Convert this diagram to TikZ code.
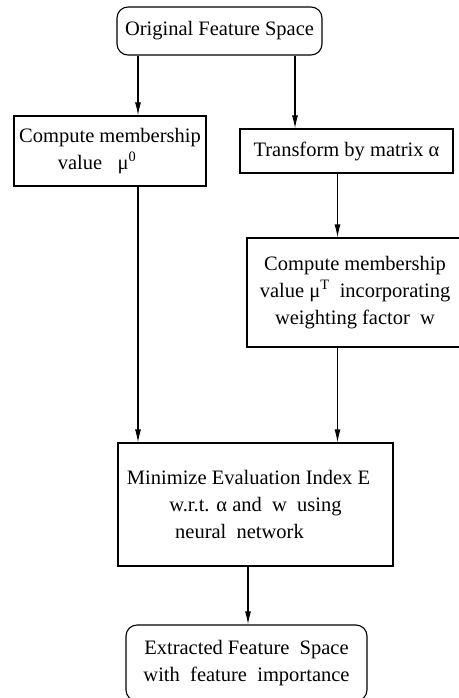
\documentclass[tikz,border=0pt]{standalone}
\usepackage{fontspec}
\setmainfont{Liberation Serif}
\usetikzlibrary{arrows.meta}

\tikzset{
  box/.style={draw, line width=1.1pt, align=center, inner sep=0pt,
    font=\fontsize{20.5}{27}\selectfont},
  endbox/.style={box, rounded corners=11pt},
  arr/.style={line width=1.1pt, -{Latex[length=13pt,width=6pt]}}
}

\begin{document}
\begin{tikzpicture}[x=1pt,y=-1pt]
\useasboundingbox (0,0) rectangle (458,698);

%define columns of the arrows
			\coordinate (colL) at (138,0);
			\coordinate (colM) at (295,0);
			\coordinate (colR) at (337.5,0);
			\coordinate (colC) at (248,0);

%draw boxes
			\node[endbox, minimum width=205pt, minimum height=48pt] (orig) at (219.5,31) {Original Feature Space};
			\node[box, minimum width=192pt, minimum height=70pt] (memb) at (110,151) {Compute membership\\value\ \ \ μ\textsuperscript{0}\hspace*{26pt}};
			\node[box, minimum width=213pt, minimum height=44pt] (trans) at (346.5,151) {Transform by matrix α};
			\node[box, minimum width=216pt, minimum height=109pt] (membw) at (355,292.5) {Compute membership\\value μ\textsuperscript{T} \ incorporating\\weighting factor \ w};
			\node[box, minimum width=275pt, minimum height=123pt] (minim) at (255.5,504.5) {Minimize Evaluation Index E\hspace*{14pt}\\w.r.t. α and \ w \ using\hspace*{38pt}\\neural \ network\hspace*{32pt}};
			\node[endbox, minimum width=241pt, minimum height=76pt] (extr) at (246.5,663) {Extracted Feature \ Space\\with \ feature \ importance};

%draw arrows
			\draw[arr] (orig.south -| colL) -- (memb.north -| colL);
			\draw[arr] (orig.south -| colM) -- (trans.north -| colM);
			\draw[arr] (trans.south -| colR) -- (membw.north -| colR);
			\draw[arr] (memb.south -| colL) -- (minim.north -| colL);
			\draw[arr] (membw.south -| colR) -- (minim.north -| colR);
			\draw[arr] (minim.south -| colC) -- (extr.north -| colC);

\end{tikzpicture}
\end{document}
